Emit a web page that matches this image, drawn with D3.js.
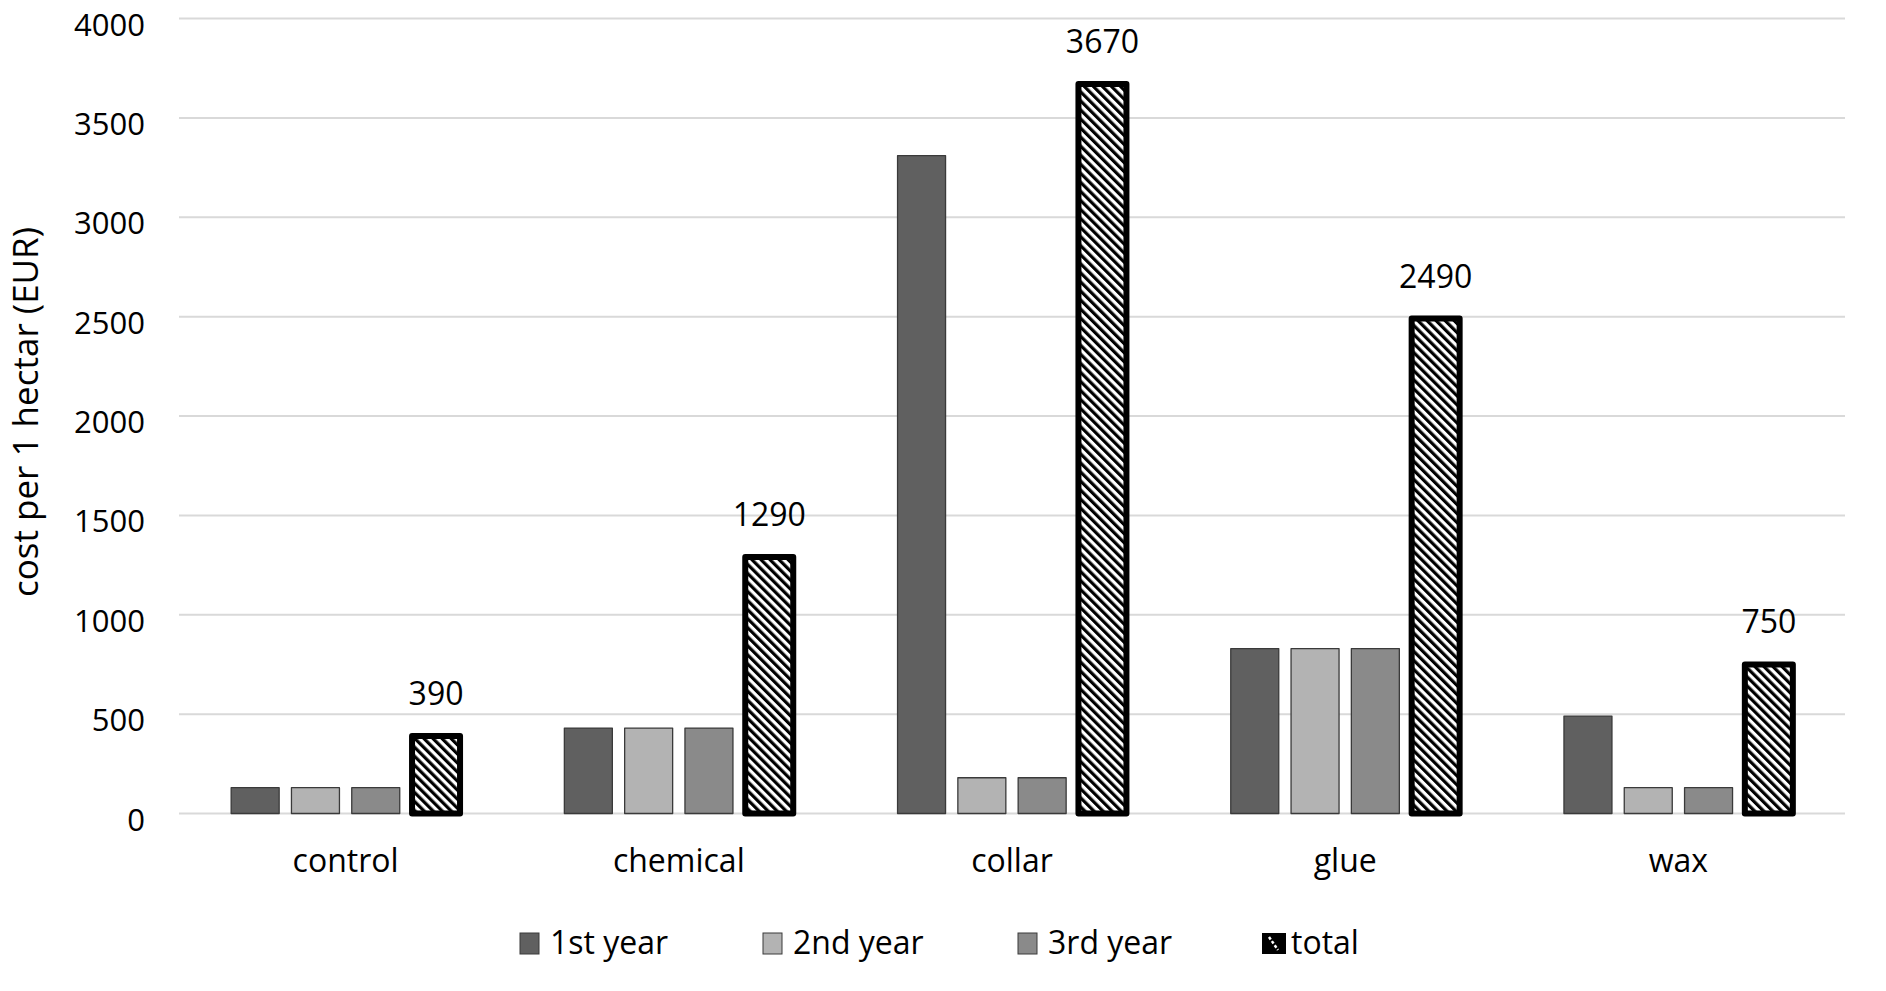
<!DOCTYPE html>
<html>
<head>
<meta charset="utf-8">
<script src="https://cdn.jsdelivr.net/npm/d3@7"></script>
<style>
  html, body { margin: 0; padding: 0; background: #fff; }
  svg { display: block; }
  text { font-family: "Open Sans", sans-serif; fill: #000; }
</style>
</head>
<body>
<svg id="chart" width="1886" height="991"></svg>
<script>
// ---- data ----
const categories = ["control", "chemical", "collar", "glue", "wax"];
const seriesNames = ["1st year", "2nd year", "3rd year", "total"];
const year1 = [130, 430, 3310, 830, 490];
const year2 = [130, 430, 180, 830, 130];
const year3 = [130, 430, 180, 830, 130];
const total = [390, 1290, 3670, 2490, 750];
const yTicks = [0, 500, 1000, 1500, 2000, 2500, 3000, 3500, 4000];
const yTitle = "cost per 1 hectar (EUR)";

// ---- styles ----
const fills = ["#606060", "#b3b3b3", "#8a8a8a", "url(#stripes)"];
const plot = { left: 179, right: 1845, top: 18.5, bottom: 813.5 };
const legendX = [520, 763, 1018, 1262];

const svg = d3.select("#chart");
const defs = svg.append("defs");
const P = 6.4;
const pat = defs.append("pattern")
  .attr("id", "stripes")
  .attr("patternUnits", "userSpaceOnUse")
  .attr("width", P).attr("height", P)
  .attr("patternTransform", "rotate(-45)");
pat.append("rect").attr("width", P).attr("height", P).attr("fill", "#fff");
pat.append("rect").attr("width", P / 2).attr("height", P).attr("fill", "#000");

const y = d3.scaleLinear().domain([0, 4000]).range([plot.bottom, plot.top]);
const x0 = d3.scaleBand().domain(categories).range([plot.left, plot.right]).padding(0);
const x1 = d3.scaleBand().domain(seriesNames).range([0, x0.bandwidth()])
  .paddingInner(0.204).paddingOuter(0.865);

// gridlines
svg.append("g").selectAll("line").data(yTicks).join("line")
  .attr("x1", plot.left).attr("x2", plot.right)
  .attr("y1", d => y(d)).attr("y2", d => y(d))
  .attr("stroke", "#d9d9d9").attr("stroke-width", 2);

// y tick labels
svg.append("g").selectAll("text").data(yTicks).join("text")
  .attr("x", 145).attr("y", d => y(d) + 17)
  .attr("text-anchor", "end")
  .attr("font-size", 31)
  .text(d => d);

// y title
svg.append("text")
  .attr("transform", "translate(38,412) rotate(-90)")
  .attr("text-anchor", "middle")
  .attr("font-size", 35)
  .text(yTitle);

// bars
const seriesData = [year1, year2, year3, total];
const rows = [];
categories.forEach((c, i) => {
  seriesNames.forEach((s, j) => {
    rows.push({ cat: c, series: s, idx: j, value: seriesData[j][i] });
  });
});

svg.append("g").selectAll("rect").data(rows).join("rect")
  .attr("x", d => x0(d.cat) + x1(d.series))
  .attr("y", d => y(d.value))
  .attr("width", x1.bandwidth())
  .attr("height", d => y(0) - y(d.value))
  .attr("fill", d => fills[d.idx])
  .attr("stroke", d => d.idx === 3 ? "#000" : "#3a3a3a")
  .attr("stroke-width", d => d.idx === 3 ? 6 : 1.3)
  .attr("stroke-linejoin", "round");

// data labels on totals
svg.append("g").selectAll("text").data(rows.filter(d => d.idx === 3)).join("text")
  .attr("x", d => x0(d.cat) + x1(d.series) + x1.bandwidth() / 2)
  .attr("y", d => y(d.value) - 31)
  .attr("text-anchor", "middle")
  .attr("font-size", 32)
  .text(d => d.value);

// x labels
svg.append("g").selectAll("text").data(categories).join("text")
  .attr("x", d => x0(d) + x0.bandwidth() / 2)
  .attr("y", 872)
  .attr("text-anchor", "middle")
  .attr("font-size", 32)
  .text(d => d);

// legend
const legend = svg.append("g");
seriesNames.forEach((s, j) => {
  const g = legend.append("g");
  const cx = legendX[j];
  const mw = j === 3 ? 24 : 19;
  if (j === 3) {
    g.append("rect").attr("x", cx).attr("y", 933).attr("width", mw).attr("height", 21)
      .attr("fill", "#000");
    g.append("line").attr("x1", cx + 7).attr("y1", 937).attr("x2", cx + 16).attr("y2", 950)
      .attr("stroke", "#fff").attr("stroke-width", 2.5).attr("stroke-dasharray", "3,2");
  } else {
    g.append("rect").attr("x", cx).attr("y", 933).attr("width", mw).attr("height", 21)
      .attr("fill", fills[j]).attr("stroke", "#3a3a3a").attr("stroke-width", 1);
  }
  g.append("text")
    .attr("x", cx + mw + (j === 3 ? 5 : 11)).attr("y", 954)
    .attr("font-size", 32)
    .text(s);
});
</script>
</body>
</html>
